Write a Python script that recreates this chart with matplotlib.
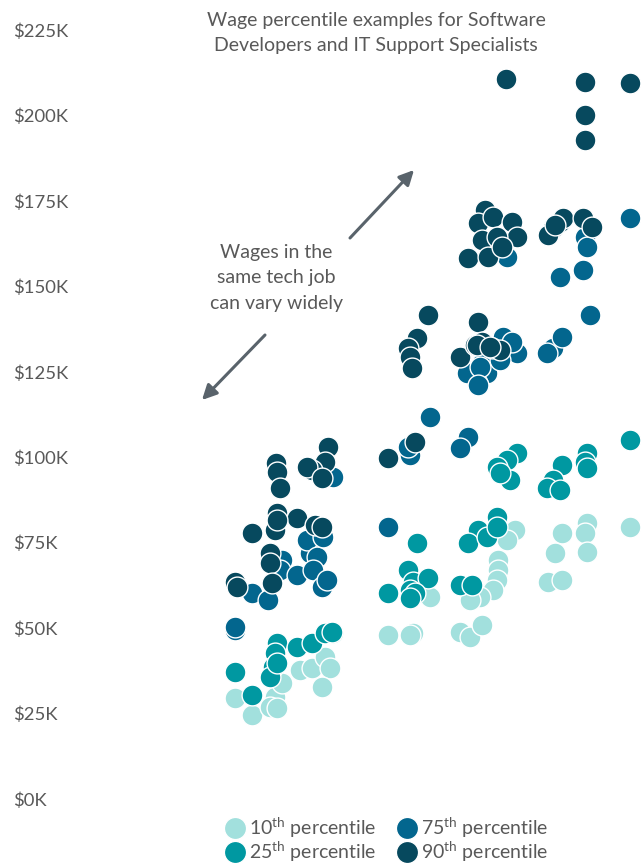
import matplotlib.pyplot as plt
from matplotlib.lines import Line2D

plt.rcParams['font.family'] = ['Lato', 'DejaVu Sans']
plt.rcParams['mathtext.fontset'] = 'custom'
plt.rcParams['mathtext.rm'] = 'Lato'
plt.rcParams['mathtext.default'] = 'regular'

# x = position of the job/area along the chart, y = wage in $K
p10_x = [31, 34.4, 39, 38, 39.4, 44, 46.4, 49, 50, 48.4, 50.6, 40.4,
         70, 61.6, 66.6, 66,
         87, 85.4, 83.6, 83.6, 83.4, 82.6, 80, 78, 76, 78, 80.4,
         110, 101.4, 101, 96.4, 95, 101.4, 93.6, 96.4]
p10_y = [29.6, 24.6, 29.8, 26.9, 26.6, 37.7, 38.3, 41.5, 38.3, 32.8, 48.6, 33.9,
         59.1, 48.0, 48.6, 48.0,
         78.7, 75.8, 69.9, 67.0, 64.1, 61.2, 59.1, 58.2, 48.9, 47.4, 50.9,
         79.6, 80.8, 77.8, 77.8, 72.0, 72.3, 63.5, 64.1]

p25_x = [31, 34.4, 39.4, 39, 38.6, 38, 43.4, 46.4, 49, 50.4, 39.4,
         67.4, 61.6, 65.6, 66.6, 66, 69.6, 67, 66,
         87.4, 85.4, 83.4, 86, 84, 83.4, 79.6, 77.6, 81.4, 83.4, 76, 78.4,
         110, 101.4, 101, 101.4, 96.4, 94.6, 93.4, 96]
p25_y = [37.2, 30.4, 45.6, 42.7, 38.6, 35.7, 44.5, 45.6, 48.6, 48.9, 39.8,
         74.9, 60.3, 67.0, 63.5, 61.2, 64.7, 60.3, 58.8,
         101.2, 99.2, 97.1, 93.3, 95.4, 82.5, 78.7, 74.9, 76.7, 79.6, 62.6, 62.6,
         105.0, 101.2, 98.6, 96.9, 97.7, 93.3, 91.0, 90.4]

p75_x = [50.6, 40.4, 40, 43.4, 46, 45.4, 47.4, 46.6, 48.4, 34.4, 37.6, 49.4, 48.6, 31, 31,
         70, 66, 65.6, 61.6,
         87.4, 84.6, 80.4, 81.4, 79.4, 77.4, 84, 80, 79.6, 86.4, 77.6, 76, 85.4,
         96, 94.6, 96.4, 93.4, 101, 101.4, 110, 100.6, 102]
p75_y = [94.2, 69.9, 67.0, 65.5, 72.0, 75.8, 70.8, 67.0, 62.0, 60.3, 58.2, 64.1, 76.7, 49.4, 50.3,
         111.8, 100.7, 103.0, 79.6,
         130.5, 135.2, 127.6, 124.6, 121.7, 124.6, 128.5, 126.4, 121.1, 133.7, 105.9, 102.7, 158.6,
         152.7, 132.0, 135.2, 130.5, 164.4, 161.5, 170.0, 154.8, 141.6]

p90_x = [39.2, 39.4, 40, 49.6, 49, 46.4, 45.4, 48.4, 39.4, 39, 34.4, 43.4, 47, 48.4,
         38, 38, 38.4, 31, 31.4, 39.4,
         69.6, 67.4, 65.6, 66, 66.4, 61.6, 67,
         79.6, 76, 79, 82.4, 84, 80.4, 79.4, 82,
         81, 79.6, 82.6, 86.4, 87.4, 80.4, 83.4, 77.6, 81.6, 84.4,
         94.6, 93.6, 96, 96.6, 95, 100.6, 102.4, 101, 110, 101, 101, 85.2]
p90_y = [98.3, 95.7, 91.0, 103.0, 98.6, 96.3, 97.1, 93.9, 83.7, 78.7, 77.8, 82.2, 80.2, 79.6,
         72.0, 69.1, 63.2, 63.5, 62.0, 81.6,
         141.6, 134.9, 132.0, 129.3, 126.1, 99.8, 104.5,
         139.6, 129.3, 132.8, 132.0, 131.4, 133.7, 132.8, 132.3,
         172.3, 168.5, 170.3, 168.8, 164.4, 163.6, 164.4, 158.3, 158.6, 161.5,
         167.1, 165.0, 168.8, 170.0, 168.0, 170.0, 167.4, 209.8, 209.5, 200.1, 192.8, 210.7]

series = [
    (p10_x, p10_y, '#a2e0dd', '10$^{th}$ percentile'),
    (p25_x, p25_y, '#0098a1', '25$^{th}$ percentile'),
    (p75_x, p75_y, '#03668e', '75$^{th}$ percentile'),
    (p90_x, p90_y, '#07495e', '90$^{th}$ percentile'),
]
yticks = [0, 25, 50, 75, 100, 125, 150, 175, 200, 225]

W, H = 641, 863
fig = plt.figure(figsize=(W / 100, H / 100), dpi=100)
ax = fig.add_axes([80 / W, (H - 799) / H, (W - 80) / W, (799 - 30) / H])

for xs, ys, col, lab in series:
    ax.scatter(xs, ys, s=225, color=col, edgecolors='white', linewidths=1.0,
               clip_on=False, zorder=3)

ax.set_xlim(0, 112.2)
ax.set_ylim(0, 225)
ax.set_xticks([])
ax.set_yticks(yticks)
ax.set_yticklabels([f'${v}K' for v in yticks])
ax.tick_params(axis='y', length=0, pad=67 * 0.72, labelsize=13.3, labelcolor='#595959')
for lbl in ax.get_yticklabels():
    lbl.set_horizontalalignment('left')
for s in ax.spines.values():
    s.set_visible(False)

fig.text(376 / W, 1 - 33 / H, 'Wage percentile examples for Software\nDevelopers and IT Support Specialists',
         ha='center', va='center', fontsize=14, color='#595959', linespacing=1.58)
fig.text(276 / W, 1 - 278 / H, 'Wages in the\nsame tech job\ncan vary widely',
         ha='center', va='center', fontsize=14, color='#595959', linespacing=1.58)

arrow = dict(arrowstyle='-|>', color='#59636b', lw=2.2, mutation_scale=22, shrinkA=0, shrinkB=0)
ax.annotate('', xy=(414 / W, 1 - 170 / H), xytext=(350 / W, 1 - 238 / H),
            xycoords='figure fraction', textcoords='figure fraction', arrowprops=arrow)
ax.annotate('', xy=(202 / W, 1 - 400 / H), xytext=(265 / W, 1 - 335 / H),
            xycoords='figure fraction', textcoords='figure fraction', arrowprops=arrow)

handles = [Line2D([], [], marker='o', ls='', markersize=16, markerfacecolor=c,
                  markeredgecolor='white', label=l) for _, _, c, l in series]
fig.legend(handles=handles, ncol=2, loc='center', bbox_to_anchor=(385 / W, 1 - 840 / H),
           frameon=False, fontsize=14, labelcolor='#595959', handletextpad=0.0,
           handlelength=1.4, columnspacing=0.9, labelspacing=0.0, borderpad=0)

fig.savefig('out.png', dpi=100)
